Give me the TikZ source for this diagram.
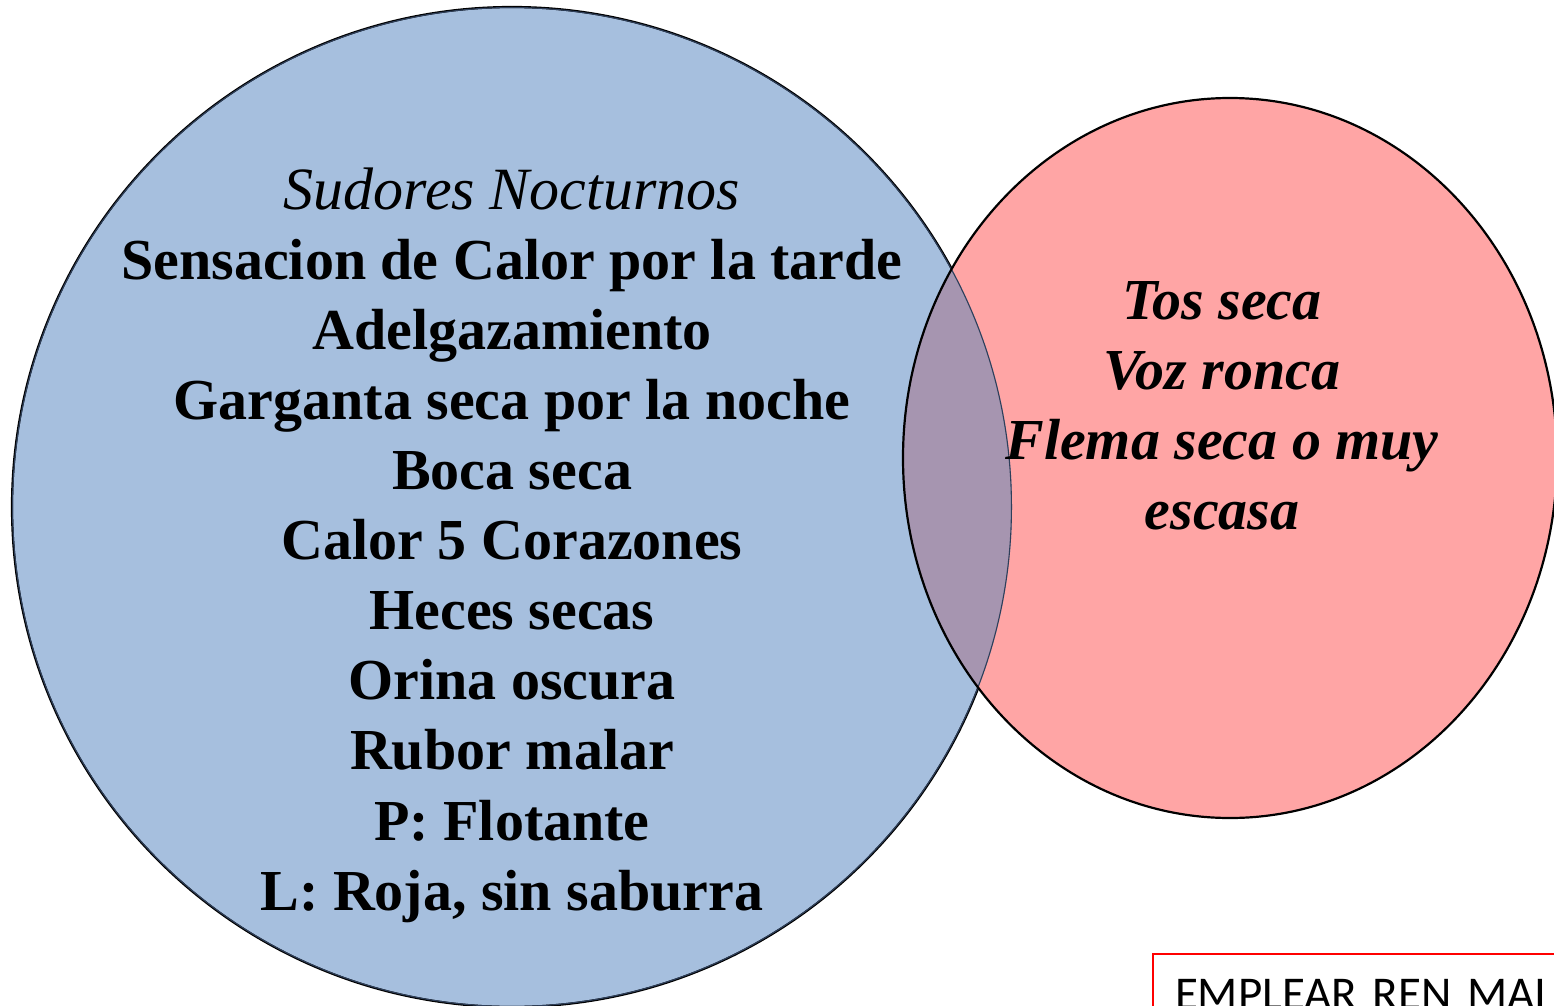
\documentclass[tikz,border=0pt]{standalone}
\usepackage{fontspec}
\setmainfont{Liberation Serif}
\newfontfamily\notefont{Carlito}
\definecolor{blueset}{HTML}{A6BFDE}
\definecolor{pinkset}{HTML}{FFA5A5}
\definecolor{bothset}{HTML}{A695B0}
\definecolor{seenedge}{HTML}{2E3F5A}
\tikzset{
  settext/.style={align=center, inner sep=0pt, font=\fontsize{29}{35.05}\selectfont\bfseries},
  setedge/.style={line width=1.1pt}
}
\begin{document}
\begin{tikzpicture}[x=0.5pt, y=-0.5pt]
  \useasboundingbox (0,0) rectangle (1554,1006);
  \clip (0,0) rectangle (1554,1006);
  % left set
  \fill[blueset] (512,507) circle (500);
  \draw[setedge] (512,507) circle (500);
  % right set
  \fill[pinkset] (1230,458) ellipse (327 and 360);
  \begin{scope}
    \clip (512,507) circle (500);
    \fill[bothset] (1230,458) ellipse (327 and 360);
    \draw[setedge, seenedge] (512,507) circle (500);
  \end{scope}
  \draw[setedge] (1230,458) ellipse (327 and 360);
  % texts
  \node[settext] (lefttext) at (512,545) {{\mdseries\itshape\fontsize{30}{35.05}\selectfont Sudores Nocturnos}\\
    Sensacion de Calor por la tarde\\
    Adelgazamiento\\
    Garganta seca por la noche\\
    Boca seca\\
    Calor 5 Corazones\\
    Heces secas\\
    Orina oscura\\
    Rubor malar\\
    P: Flotante\\
    L: Roja, sin saburra};
  \node[settext, font=\fontsize{29}{35.05}\selectfont\bfseries\itshape] (righttext) at (1222,406)
    {Tos seca\\ Voz ronca\\ Flema seca o muy\\ escasa};
  % note box
  \node[draw=red, line width=1pt, anchor=north west, inner xsep=11pt, inner ysep=12.5pt,
    text width=330pt, text height=15pt, text depth=20pt, align=left,
    font=\notefont\fontsize{23.5}{28}\selectfont] (note) at (1152,953)
    {EMPLEAR REN MAI};
\end{tikzpicture}
\end{document}
